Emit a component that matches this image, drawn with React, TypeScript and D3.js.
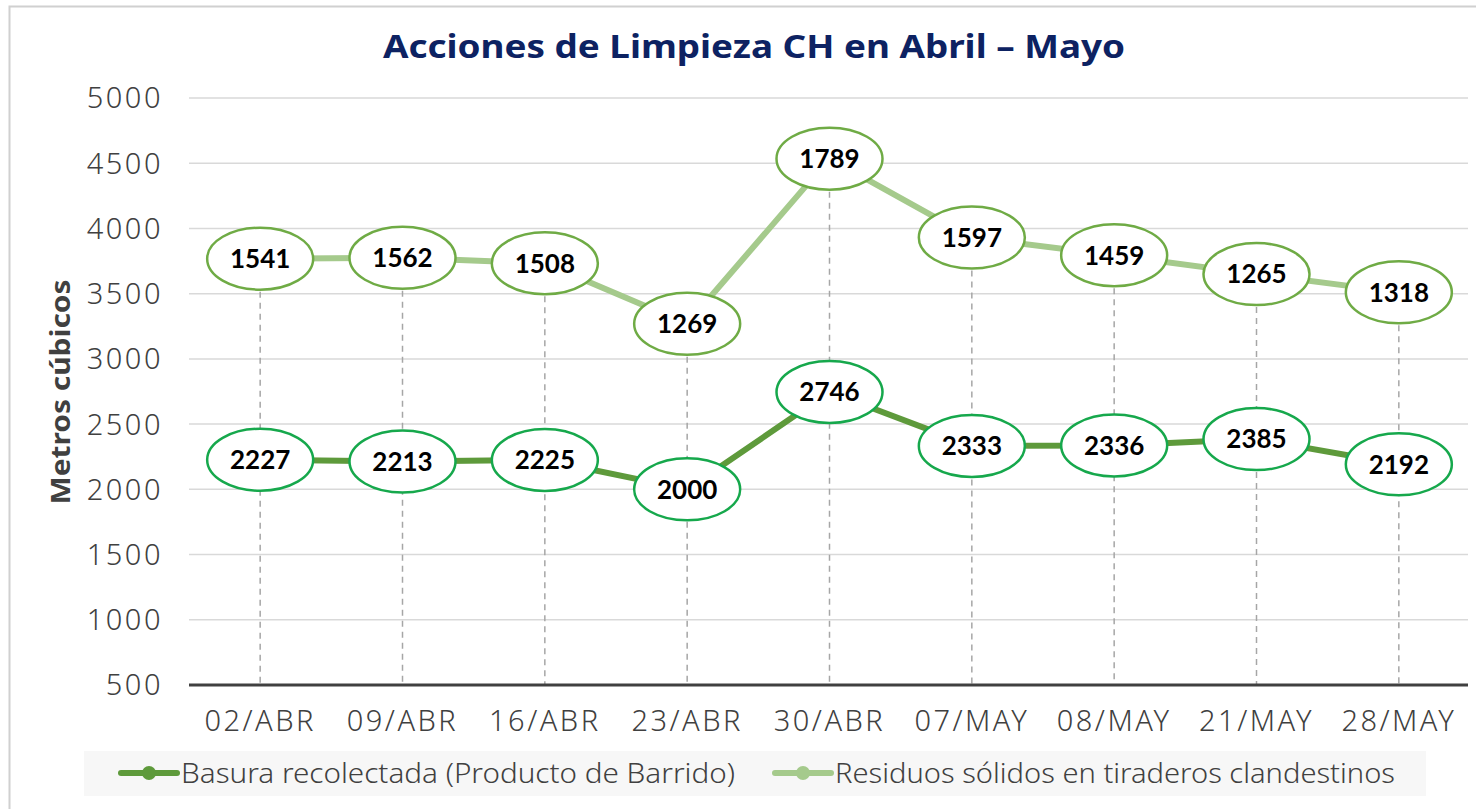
import React from 'react';
import * as d3 from 'd3';

const categories = ['02/ABR', '09/ABR', '16/ABR', '23/ABR', '30/ABR', '07/MAY', '08/MAY', '21/MAY', '28/MAY'];
const basura = [2227, 2213, 2225, 2000, 2746, 2333, 2336, 2385, 2192];
const residuos = [1541, 1562, 1508, 1269, 1789, 1597, 1459, 1265, 1318];
const yTicks = [500, 1000, 1500, 2000, 2500, 3000, 3500, 4000, 4500, 5000];
const seriesNames = ['Basura recolectada (Producto de Barrido)', 'Residuos sólidos en tiraderos clandestinos'];

const W = 1476;
const H = 809;
const M = { left: 189, right: 1470, top: 98, bottom: 685 };

const DARK = '#5e9a3b';
const LIGHT = '#a5ca8c';
const DARK_RING = '#16a84c';
const LIGHT_RING = '#6fab45';

export default function App() {
  const x = d3.scalePoint<string>().domain(categories).range([M.left, M.right]).padding(0.5);
  const y = d3.scaleLinear().domain([500, 5000]).range([M.bottom, M.top]);

  const stacked = residuos.map((v, i) => v + basura[i]);
  const lineGen = d3
    .line<number>()
    .x((_, i) => x(categories[i]) as number)
    .y((d) => y(d));

  const labelFont = 'Lato, "Open Sans", sans-serif';
  const gothamish = '"Noto Sans", "Open Sans", sans-serif';

  return (
    <svg width={W} height={H} style={{ position: 'absolute', left: 0, top: 0, background: '#fff' }}>
      <rect x={9.5} y={6.5} width={W + 10} height={H + 10} fill="#fff" stroke="#d0d0d0" strokeWidth={2} />
      <text
        x={754}
        y={58}
        textAnchor="middle"
        fontFamily={gothamish}
        fontWeight={700}
        fontSize={33}
        fill="#0d2262"
        textLength={742}
        lengthAdjust="spacingAndGlyphs"
      >
        Acciones de Limpieza CH en Abril – Mayo
      </text>

      {/* gridlines */}
      {yTicks.map((t) =>
        t === 500 ? null : (
          <line key={t} x1={M.left} x2={1468} y1={y(t)} y2={y(t)} stroke="#d9d9d9" strokeWidth={1.5} />
        )
      )}
      {/* y tick labels */}
      {yTicks.map((t) => (
        <text
          key={'l' + t}
          x={163}
          y={y(t)}
          dy="0.36em"
          textAnchor="end"
          fontFamily={gothamish}
          fontWeight={300}
          fontSize={29}
          fill="#404040"
          letterSpacing={2.5}
        >
          {t}
        </text>
      ))}

      {/* drop lines */}
      {categories.map((c, i) => (
        <line
          key={'d' + c}
          x1={x(c)}
          x2={x(c)}
          y1={y(stacked[i])}
          y2={M.bottom}
          stroke="#a6a6a6"
          strokeWidth={1.5}
          strokeDasharray="6,5"
        />
      ))}

      {/* axis */}
      <line x1={M.left} x2={1468} y1={M.bottom} y2={M.bottom} stroke="#404040" strokeWidth={3} />
      {categories.map((c) => (
        <text
          key={'x' + c}
          x={x(c)}
          y={731}
          textAnchor="middle"
          fontFamily={gothamish}
          fontWeight={300}
          fontSize={29}
          fill="#404040"
          letterSpacing={2.5}
        >
          {c}
        </text>
      ))}

      {/* lines */}
      <path d={lineGen(stacked) || ''} fill="none" stroke={LIGHT} strokeWidth={6} strokeLinejoin="round" />
      <path d={lineGen(basura) || ''} fill="none" stroke={DARK} strokeWidth={6} strokeLinejoin="round" />

      {/* labels */}
      {categories.map((c, i) => (
        <g key={'lb' + c}>
          <ellipse cx={x(c)} cy={y(stacked[i])} rx={53} ry={31} fill="#fff" stroke={LIGHT_RING} strokeWidth={2.5} />
          <text
            x={x(c)}
            y={y(stacked[i])}
            dy="0.36em"
            textAnchor="middle"
            fontFamily={labelFont}
            fontWeight={700}
            fontSize={26}
            fill="#000"
          >
            {residuos[i]}
          </text>
          <ellipse cx={x(c)} cy={y(basura[i])} rx={53} ry={31} fill="#fff" stroke={DARK_RING} strokeWidth={2.5} />
          <text
            x={x(c)}
            y={y(basura[i])}
            dy="0.36em"
            textAnchor="middle"
            fontFamily={labelFont}
            fontWeight={700}
            fontSize={26}
            fill="#000"
          >
            {basura[i]}
          </text>
        </g>
      ))}

      {/* y axis title */}
      <text
        transform="translate(70,392) rotate(-90)"
        textAnchor="middle"
        fontFamily={gothamish}
        fontWeight={700}
        fontSize={26}
        fill="#404040"
        textLength={225}
        lengthAdjust="spacingAndGlyphs"
      >
        Metros cúbicos
      </text>

      {/* legend */}
      <rect x={84} y={751} width={1342} height={45} fill="#f7f7f7" />
      {[0, 1].map((k) => {
        const lx = k === 0 ? 121 : 775;
        const col = k === 0 ? DARK : LIGHT;
        const len = k === 0 ? 554 : 560;
        return (
          <g key={'lg' + k}>
            <line x1={lx} x2={lx + 56} y1={773} y2={773} stroke={col} strokeWidth={6} strokeLinecap="round" />
            <circle cx={lx + 28} cy={773} r={7} fill={col} />
            <text
              x={lx + 60}
              y={783}
              fontFamily={gothamish}
              fontWeight={300}
              fontSize={27}
              fill="#404040"
              textLength={len}
              lengthAdjust="spacingAndGlyphs"
            >
              {seriesNames[k]}
            </text>
          </g>
        );
      })}
    </svg>
  );
}
